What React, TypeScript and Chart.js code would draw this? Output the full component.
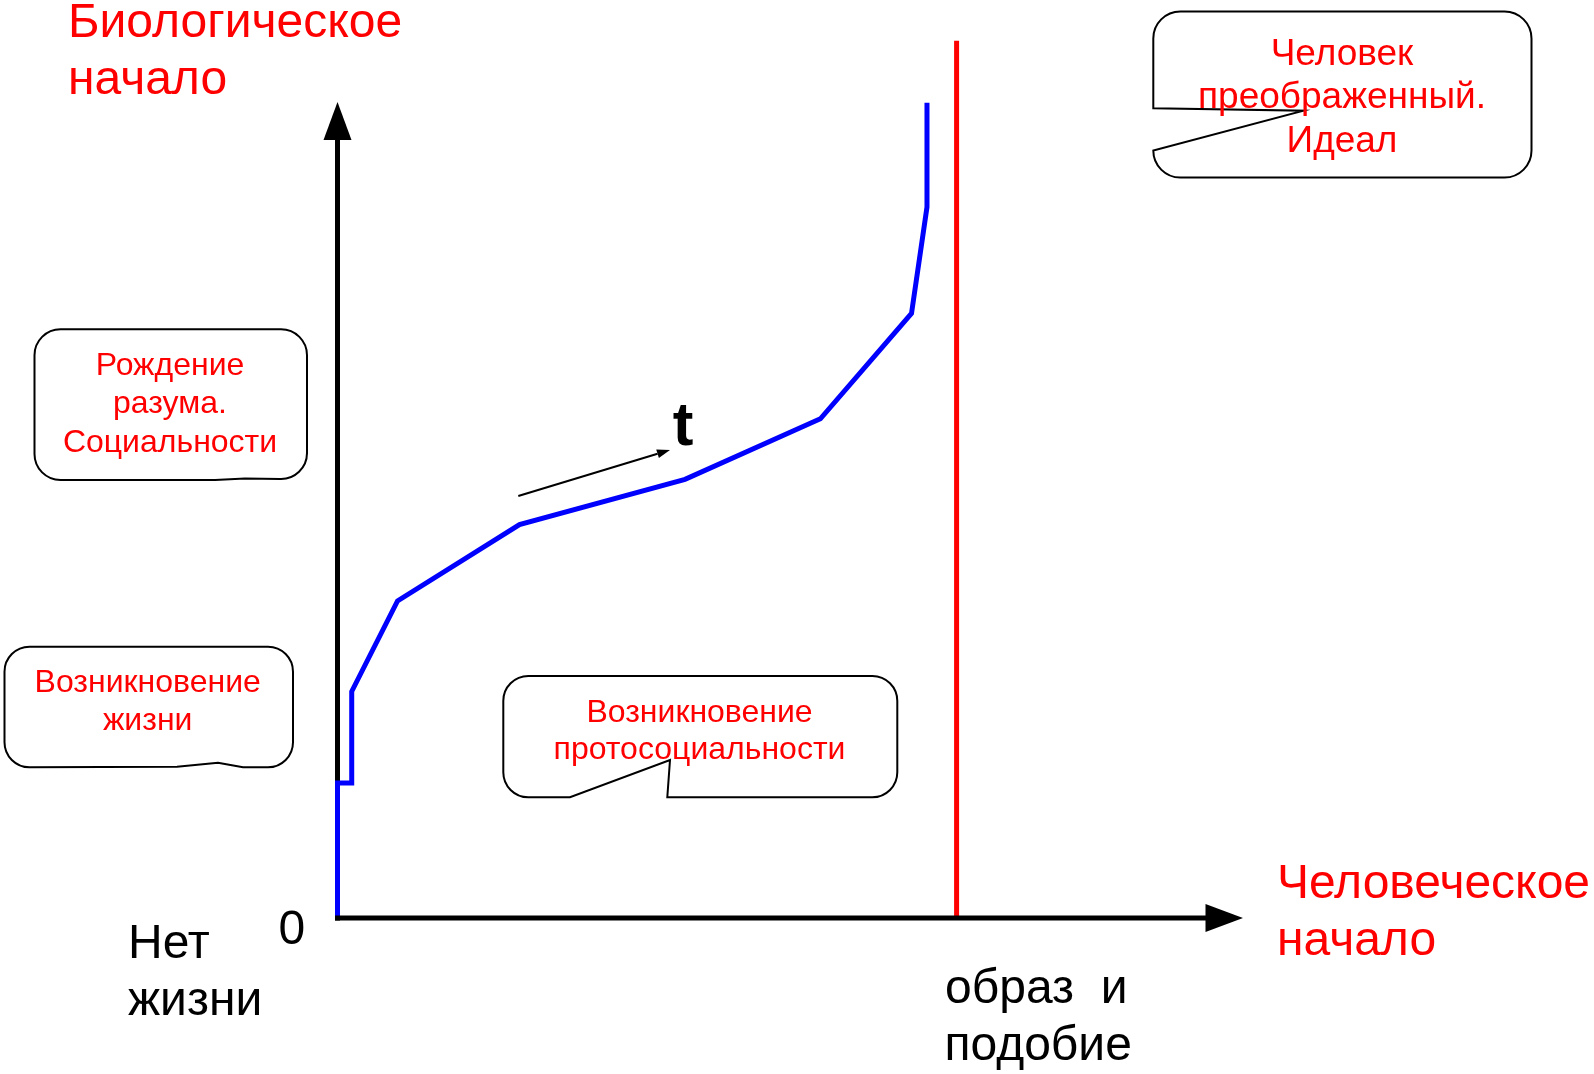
import React, { useEffect, useRef } from "react";
import { Chart, registerables } from "chart.js";

Chart.register(...registerables);

// ---- data (chart units: x 0..100 = origin..x-arrow tip, y 0..100 = origin..y-arrow tip)
const pathX = [0, 0, 1.57, 1.57, 6.63, 20.1, 38.38, 53.33, 63.39, 65.1, 65.1];
const pathY = [0, 16.54, 16.54, 27.76, 38.85, 48.2, 53.76, 61.18, 74.08, 87.13, 99.9];
const limitX = [68.37, 68.37];
const limitY = [0, 107.5];

// ---- labels
const yTitle = ["Биологическое", "начало"];
const xTitle = ["Человеческое", "начало"];
const originText = "0";
const noLifeText = ["Нет", "жизни"];
const imageText = ["образ  и", "подобие"];
const timeText = "t";
const idealText = ["Человек", "преображенный.", "Идеал"];
const reasonText = ["Рождение", "разума.", "Социальности"];
const lifeText = ["Возникновение", "жизни"];
const protoText = ["Возникновение", "протосоциальности"];

const W = 1594;
const H = 1074;
const FONT = '"Liberation Sans", Arial, sans-serif';

function txt(ctx: CanvasRenderingContext2D, s: string, x: number, y: number, size: number, color: string, align: CanvasTextAlign = "left", bold = false) {
  ctx.save();
  ctx.font = `${bold ? "bold " : ""}${size}px ${FONT}`;
  ctx.fillStyle = color;
  ctx.textAlign = align;
  ctx.textBaseline = "alphabetic";
  ctx.fillText(s, x, y);
  ctx.restore();
}

function finishBox(ctx: CanvasRenderingContext2D) {
  ctx.fillStyle = "#ffffff";
  ctx.fill();
  ctx.lineWidth = 2;
  ctx.strokeStyle = "#000000";
  ctx.lineJoin = "miter";
  ctx.stroke();
}

const overlay = {
  id: "overlay",
  beforeDatasetsDraw(chart: any) {
    const ctx: CanvasRenderingContext2D = chart.ctx;
    const xs = chart.scales.x;
    const ys = chart.scales.y;
    const x0 = xs.getPixelForValue(0);
    const y0 = ys.getPixelForValue(0);
    const yTip = ys.getPixelForValue(100);
    ctx.save();
    ctx.strokeStyle = "#000";
    ctx.fillStyle = "#000";
    ctx.lineWidth = 5;
    ctx.beginPath();
    ctx.moveTo(x0, y0 + 2.5);
    ctx.lineTo(x0, yTip + 36);
    ctx.stroke();
    ctx.beginPath();
    ctx.moveTo(x0, yTip);
    ctx.lineTo(x0 - 14, yTip + 38);
    ctx.lineTo(x0 + 14, yTip + 38);
    ctx.closePath();
    ctx.fill();
    ctx.restore();
  },
  afterDatasetsDraw(chart: any) {
    const ctx: CanvasRenderingContext2D = chart.ctx;
    const xs = chart.scales.x;
    const ys = chart.scales.y;
    const x0 = xs.getPixelForValue(0);
    const y0 = ys.getPixelForValue(0);
    const xTip = xs.getPixelForValue(100);
    ctx.save();
    // x axis
    ctx.strokeStyle = "#000";
    ctx.fillStyle = "#000";
    ctx.lineWidth = 5;
    ctx.beginPath();
    ctx.moveTo(x0 - 2.5, y0);
    ctx.lineTo(xTip - 36, y0);
    ctx.stroke();
    ctx.beginPath();
    ctx.moveTo(xTip, y0);
    ctx.lineTo(xTip - 37.5, y0 - 14);
    ctx.lineTo(xTip - 37.5, y0 + 14);
    ctx.closePath();
    ctx.fill();

    // small time arrow
    const ax = 518.3, ay = 496, bx = 670, by = 450;
    const ang = Math.atan2(by - ay, bx - ax);
    const hl = 13, hw = 4.5;
    const hx = bx - hl * Math.cos(ang), hy = by - hl * Math.sin(ang);
    ctx.lineWidth = 2;
    ctx.beginPath();
    ctx.moveTo(ax, ay);
    ctx.lineTo(hx, hy);
    ctx.stroke();
    ctx.beginPath();
    ctx.moveTo(bx, by);
    ctx.lineTo(hx - hw * Math.sin(ang), hy + hw * Math.cos(ang));
    ctx.lineTo(hx + hw * Math.sin(ang), hy - hw * Math.cos(ang));
    ctx.closePath();
    ctx.fill();

    // Box A: top-right with left notch
    {
      const L = 1153.3, T = 11.5, R = 1531.5, B = 177.5, r = 27;
      ctx.beginPath();
      ctx.moveTo(L, 108.3);
      ctx.lineTo(L, T + r);
      ctx.arcTo(L, T, L + r, T, r);
      ctx.lineTo(R - r, T);
      ctx.arcTo(R, T, R, T + r, r);
      ctx.lineTo(R, B - r);
      ctx.arcTo(R, B, R - r, B, r);
      ctx.lineTo(L + r, B);
      ctx.arcTo(L, B, L, B - r, r);
      ctx.lineTo(1303.5, 110.7);
      ctx.lineTo(L, 108.3);
      ctx.closePath();
      finishBox(ctx);
    }
    // Box B: Рождение разума
    {
      const L = 34.5, T = 329.3, R = 307, B = 480, r = 26;
      ctx.beginPath();
      ctx.moveTo(L + r, T);
      ctx.lineTo(R - r, T);
      ctx.arcTo(R, T, R, T + r, r);
      ctx.lineTo(R, B - r);
      ctx.arcTo(R, B, R - r, B - 1, r);
      ctx.lineTo(245, B - 1.5);
      ctx.lineTo(215, B);
      ctx.lineTo(L + r, B);
      ctx.arcTo(L, B, L, B - r, r);
      ctx.lineTo(L, T + r);
      ctx.arcTo(L, T, L + r, T, r);
      ctx.closePath();
      finishBox(ctx);
    }
    // Box C: Возникновение жизни
    {
      const L = 4.5, T = 646.7, R = 293, B = 767.3, r = 25;
      ctx.beginPath();
      ctx.moveTo(L + r, T);
      ctx.lineTo(R - r, T);
      ctx.arcTo(R, T, R, T + r, r);
      ctx.lineTo(R, B - r);
      ctx.arcTo(R, B, R - r, B, r);
      ctx.lineTo(243, B);
      ctx.lineTo(218, 762.7);
      ctx.lineTo(177, 766.7);
      ctx.lineTo(L + r, B);
      ctx.arcTo(L, B, L, B - r, r);
      ctx.lineTo(L, T + r);
      ctx.arcTo(L, T, L + r, T, r);
      ctx.closePath();
      finishBox(ctx);
    }
    // Box D: протосоциальности
    {
      const L = 503.3, T = 676, R = 897.3, B = 797.3, r = 25;
      ctx.beginPath();
      ctx.moveTo(L + r, T);
      ctx.lineTo(R - r, T);
      ctx.arcTo(R, T, R, T + r, r);
      ctx.lineTo(R, B - r);
      ctx.arcTo(R, B, R - r, B, r);
      ctx.lineTo(667.3, B);
      ctx.lineTo(670, 760);
      ctx.lineTo(570, B);
      ctx.lineTo(L + r, B);
      ctx.arcTo(L, B, L, B - r, r);
      ctx.lineTo(L, T + r);
      ctx.arcTo(L, T, L + r, T, r);
      ctx.closePath();
      finishBox(ctx);
    }
    ctx.restore();

    const RED = "#ff0000";
    const BLK = "#000000";
    // titles
    txt(ctx, yTitle[0], 68, 37, 48, RED);
    txt(ctx, yTitle[1], 68, 93.5, 48, RED);
    txt(ctx, xTitle[0], 1277, 898, 48, RED);
    txt(ctx, xTitle[1], 1277, 955, 48, RED);
    // axis texts
    txt(ctx, originText, 278.5, 944, 48, BLK);
    txt(ctx, noLifeText[0], 128, 958.3, 48, BLK);
    txt(ctx, noLifeText[1], 128, 1015, 48, BLK);
    txt(ctx, imageText[0], 945, 1003.3, 48, BLK);
    txt(ctx, imageText[1], 944.5, 1060, 48, BLK);
    txt(ctx, timeText, 683, 445, 62, BLK, "center", true);
    // box texts
    txt(ctx, idealText[0], 1342, 65, 37, RED, "center");
    txt(ctx, idealText[1], 1342, 107.5, 37, RED, "center");
    txt(ctx, idealText[2], 1342, 151.5, 37, RED, "center");
    txt(ctx, reasonText[0], 170, 375, 32, RED, "center");
    txt(ctx, reasonText[1], 170, 413, 32, RED, "center");
    txt(ctx, reasonText[2], 170, 451.5, 32, RED, "center");
    txt(ctx, lifeText[0], 147.7, 691.7, 32, RED, "center");
    txt(ctx, lifeText[1], 147.7, 730, 32, RED, "center");
    txt(ctx, protoText[0], 699.5, 721.7, 32, RED, "center");
    txt(ctx, protoText[1], 699.5, 759.3, 32, RED, "center");
  },
};

export default function App() {
  const ref = useRef<HTMLCanvasElement | null>(null);
  useEffect(() => {
    if (!ref.current) return;
    const chart = new Chart(ref.current, {
      type: "line",
      data: {
        datasets: [
          {
            label: "limit",
            data: limitX.map((x, i) => ({ x, y: limitY[i] })),
            borderColor: "#ff0000",
            borderWidth: 5,
            pointRadius: 0,
            tension: 0,
            clip: false as any,
            borderCapStyle: "butt",
          },
          {
            label: "path",
            data: pathX.map((x, i) => ({ x, y: pathY[i] })),
            borderColor: "#0000ff",
            borderWidth: 5,
            pointRadius: 0,
            tension: 0,
            clip: false as any,
            borderCapStyle: "butt",
            borderJoinStyle: "miter",
          },
        ],
      },
      options: {
        animation: false,
        responsive: false,
        devicePixelRatio: 1,
        layout: { padding: { left: 337.5, right: 79.35, top: 20.4, bottom: 156 } },
        scales: {
          x: { type: "linear", min: 0, max: 130, display: false },
          y: { type: "linear", min: 0, max: 110, display: false },
        },
        plugins: { legend: { display: false }, tooltip: { enabled: false } },
      },
      plugins: [overlay],
    });
    return () => chart.destroy();
  }, []);
  return (
    <div style={{ position: "absolute", left: 0, top: 0, width: W, height: H, background: "#fff" }}>
      <canvas ref={ref} width={W} height={H} style={{ display: "block", width: W, height: H }} />
    </div>
  );
}
